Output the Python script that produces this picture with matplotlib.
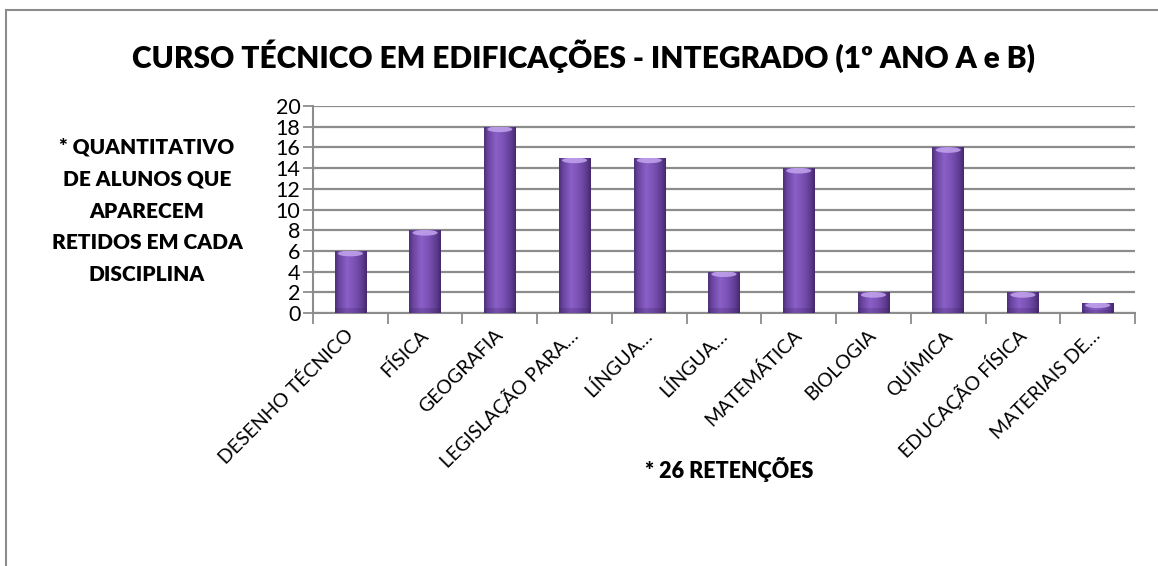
import numpy as np
import matplotlib
matplotlib.use("Agg")
import matplotlib.pyplot as plt
from matplotlib.patches import Rectangle, Ellipse
from matplotlib.colors import LinearSegmentedColormap

plt.rcParams['font.family'] = ['Lato', 'DejaVu Sans']

# Data
disciplinas = ["DESENHO TÉCNICO", "FÍSICA", "GEOGRAFIA", "LEGISLAÇÃO PARA…",
               "LÍNGUA…", "LÍNGUA…", "MATEMÁTICA", "BIOLOGIA", "QUÍMICA",
               "EDUCAÇÃO FÍSICA", "MATERIAIS DE…"]
retidos = [6, 8, 18, 15, 15, 4, 14, 2, 16, 2, 1]
y_ticks = list(range(0, 21, 2))

W, H = 1158, 566
fig = plt.figure(figsize=(W / 100, H / 100), dpi=100)


def fx(px):
    return px / W


def fy(py):
    return 1 - py / H


# Outer chart-area border
fig.patches.append(Rectangle((fx(6), fy(600)), 1.2, fy(10) - fy(600),
                             transform=fig.transFigure, fill=False,
                             edgecolor="#8c8c8c", linewidth=1.5, zorder=0))

ax = fig.add_axes([fx(313), fy(313), fx(1135) - fx(313), fy(106) - fy(313)])

n = len(disciplinas)
x = np.arange(n) + 0.5
bw = 0.42
bars = ax.bar(x, retidos, width=bw, color="#7a52ad", edgecolor="none", zorder=3)

# Cylinder-like shading across each bar
shade = LinearSegmentedColormap.from_list(
    "roxo", [(0.0, "#4d2f78"), (0.12, "#6a45a0"), (0.38, "#8b5fc8"),
             (0.62, "#7a52b5"), (0.88, "#5d3a8e"), (1.0, "#44286b")])
grad = np.linspace(0, 1, 64)[None, :]
for xi, h, patch in zip(x, retidos, bars.patches):
    im = ax.imshow(grad, cmap=shade, extent=[xi - bw / 2, xi + bw / 2, 0, h],
                   aspect="auto", interpolation="bicubic", zorder=3)
    im.set_clip_path(patch)
    cap = Ellipse((xi, h - 0.25), bw * 0.8, 0.55, facecolor="#c3a5ee",
                  edgecolor="none", alpha=0.85, zorder=4)
    ax.add_patch(cap)
    cap.set_clip_path(patch)
    base = Rectangle((xi - bw / 2, 0), bw, min(0.5, h * 0.3), facecolor="#3e2463",
                     edgecolor="none", alpha=0.25, zorder=4)
    ax.add_patch(base)
    base.set_clip_path(patch)

ax.set_xlim(0, n)
ax.set_ylim(0, 20)
ax.set_aspect("auto")

ax.set_yticks(y_ticks)
ax.set_yticklabels([str(v) for v in y_ticks], fontsize=15.5)
ax.yaxis.grid(True, color="#8c8c8c", linewidth=1.6, zorder=0)
ax.set_axisbelow(True)

ax.set_xticks(np.arange(n + 1))
ax.set_xticklabels([])
ax.set_xticks(x, minor=True)
ax.set_xticklabels(disciplinas, minor=True, rotation=45, ha="right",
                   va="center", rotation_mode="anchor", fontsize=14)
ax.tick_params(axis="x", which="minor", length=0, pad=14)
ax.tick_params(axis="x", which="major", length=8, width=1.3, color="#8c8c8c",
               direction="out")
ax.tick_params(axis="y", length=7, width=1.3, color="#8c8c8c", pad=2)

for s in ("top", "right"):
    ax.spines[s].set_visible(False)
for s in ("left", "bottom"):
    ax.spines[s].set_color("#8c8c8c")
    ax.spines[s].set_linewidth(1.5)

fig.text(fx(584), fy(56), "CURSO TÉCNICO EM EDIFICAÇÕES - INTEGRADO (1º ANO A e B)",
         ha="center", va="center", fontsize=21.5, fontweight="heavy")

fig.text(fx(147), fy(211),
         "* QUANTITATIVO\nDE ALUNOS QUE\nAPARECEM\nRETIDOS EM CADA\nDISCIPLINA",
         ha="center", va="center", fontsize=15, fontweight="heavy",
         linespacing=1.8)

fig.text(fx(729), fy(470), "* 26 RETENÇÕES", ha="center", va="center",
         fontsize=15.5, fontweight="heavy")

fig.savefig("out.png", dpi=100, facecolor="white")
